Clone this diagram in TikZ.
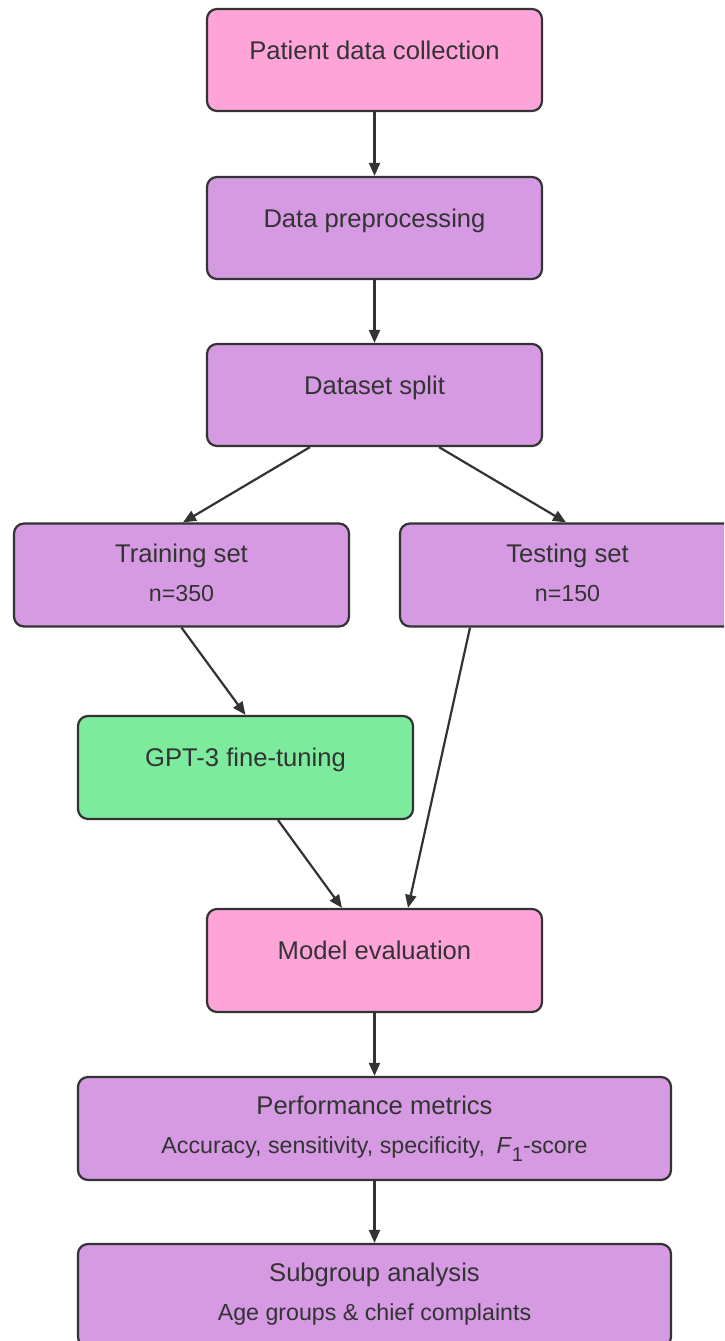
\documentclass[tikz,border=0pt]{standalone}
\usepackage{fontspec}
\setmainfont{Liberation Sans}
\usetikzlibrary{arrows.meta,calc}
\definecolor{edge}{HTML}{333333}
\definecolor{ink}{HTML}{333333}
\definecolor{pinkfill}{HTML}{FEA4D9}
\definecolor{purplefill}{HTML}{D59AE2}
\definecolor{greenfill}{HTML}{7DEB9D}
\begin{document}
\begin{tikzpicture}[x=1pt,y=1pt,
  box/.style={draw=edge, line width=2.2pt, rounded corners=10pt,
    minimum width=335pt, minimum height=102pt, inner sep=0pt},
  widebox/.style={box, minimum width=593pt},
  pinkbox/.style={box, fill=pinkfill},
  purplebox/.style={box, fill=purplefill},
  greenbox/.style={box, fill=greenfill},
  title/.style={anchor=base, text=ink, inner sep=0pt,
    font=\fontsize{25.6}{30}\selectfont},
  detail/.style={anchor=base, text=ink, inner sep=0pt,
    font=\fontsize{23.2}{27}\selectfont},
  flow/.style={draw=edge, line width=2.2pt,
    -{Triangle[length=13pt,width=11pt]}}]

\clip (0,0) rectangle (724,-1341);
\fill[white] (0,0) rectangle (724,-1341);

% boxes
\node[pinkbox]   (collect) at (374.5,-60)    {};
\node[purplebox] (prep)    at (374.5,-228)   {};
\node[purplebox] (split)   at (374.5,-395)   {};
\node[purplebox, minimum height=103pt] (train) at (181.5,-575) {};
\node[purplebox, minimum height=103pt] (test)  at (567.5,-575) {};
\node[greenbox,  minimum height=103pt] (gpt)   at (245.5,-767.5) {};
\node[pinkbox,   minimum height=103pt] (eval)  at (374.5,-960.5) {};
\node[purplebox, widebox, minimum height=103pt] (perf) at (374.5,-1128.5) {};
\node[purplebox, widebox, minimum height=103pt] (subg) at (374.5,-1295.5) {};

% labels
\node[title] (collect-t) at ($(collect.north)+(0,-52)$) {Patient data collection};
\node[title] (prep-t)    at ($(prep.north)+(0,-52)$)    {Data preprocessing};
\node[title] (split-t)   at ($(split.north)+(0,-52)$)   {Dataset split};
\node[title]  (train-t)  at ($(train.north)+(0,-40)$)   {Training set};
\node[detail] (train-n)  at ($(train.north)+(0,-79)$)   {n=350};
\node[title]  (test-t)   at ($(test.north)+(0,-40)$)    {Testing set};
\node[detail] (test-n)   at ($(test.north)+(0,-79)$)    {n=150};
\node[title] (gpt-t)     at ($(gpt.north)+(0,-52)$)     {GPT-3 fine-tuning};
\node[title] (eval-t)    at ($(eval.north)+(0,-52)$)    {Model evaluation};
\node[title]  (perf-t)   at ($(perf.north)+(0,-39)$)    {Performance metrics};
\node[detail] (perf-d)   at ($(perf.north)+(0,-78)$)
  {Accuracy, sensitivity, specificity,\hspace{0.5em}\textit{F}\raisebox{-8pt}{\fontsize{20}{20}\selectfont 1}-score};
\node[title]  (subg-t)   at ($(subg.north)+(0,-39)$)    {Subgroup analysis};
\node[detail] (subg-d)   at ($(subg.north)+(0,-78)$)    {Age groups \& chief complaints};

% connectors
\draw[flow] (collect.south) -- (prep.north);
\draw[flow] (prep.south) -- (split.north);
\draw[flow] ([xshift=-64.5pt]split.south) -- ([xshift=1.5pt]train.north);
\draw[flow] ([xshift=64.5pt]split.south) -- ([xshift=-1.5pt]test.north);
\draw[flow] (train.south) -- (gpt.north);
\draw[flow] ([xshift=32.5pt]gpt.south) -- ([xshift=-32.5pt]eval.north);
\draw[flow] ([xshift=-97.5pt]test.south) -- ([xshift=33.5pt]eval.north);
\draw[flow] (eval.south) -- (perf.north);
\draw[flow] (perf.south) -- (subg.north);
\end{tikzpicture}
\end{document}
